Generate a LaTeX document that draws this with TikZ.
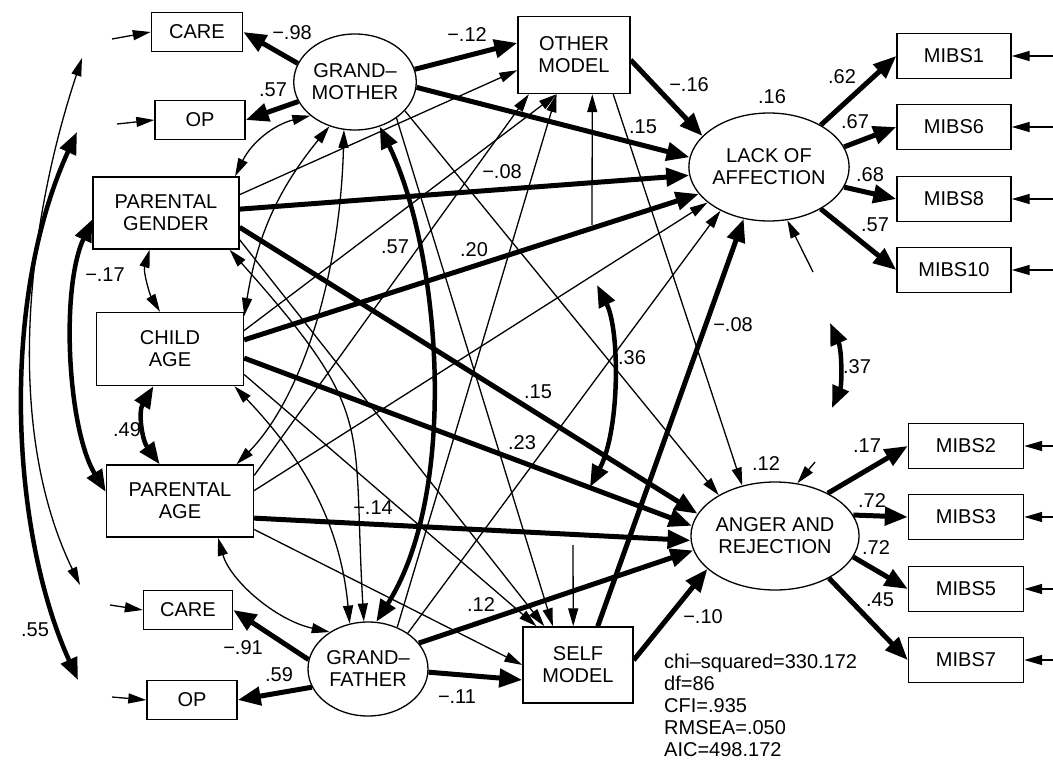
\documentclass[tikz,border=0pt]{standalone}
\usepackage{fontspec}
\setmainfont{Liberation Sans}
\usetikzlibrary{arrows.meta,shapes.geometric}
\begin{document}
\begin{tikzpicture}[x=1pt,y=-1pt,
  font=\fontsize{20}{22}\selectfont,
  box/.style={draw,line width=1.4pt,inner sep=0pt,align=center},
  lat/.style={draw,ellipse,line width=1.3pt,inner sep=0pt,align=center},
  pth/.style={line width=1.3pt,-{Triangle[length=18pt,width=10pt]}},
  pthb/.style={line width=1.3pt,{Triangle[length=18pt,width=10pt]}-{Triangle[length=18pt,width=10pt]}},
  pthk/.style={line width=5pt,-{Triangle[length=23pt,width=18pt]}},
  pthkb/.style={line width=4.5pt,{Triangle[length=22pt,width=17pt]}-{Triangle[length=22pt,width=17pt]}},
  lbl/.style={inner sep=0pt}
]
\useasboundingbox (0,0) rectangle (1053,760);

% ---------- nodes ----------
\node[box,minimum width=91pt,minimum height=39pt] (care1) at (197,32) {CARE};
\node[box,minimum width=90pt,minimum height=39pt] (op1) at (200,120) {OP};
\node[lat,minimum width=120pt,minimum height=96pt] (gm) at (355,82) {GRAND–\\MOTHER};
\node[box,minimum width=112pt,minimum height=77pt] (om) at (574,55) {OTHER\\MODEL};
\node[lat,minimum width=155pt,minimum height=108pt] (la) at (769,167) {LACK OF\\AFFECTION};
\node[box,minimum width=114pt,minimum height=45pt] (m1) at (954,56) {MIBS1};
\node[box,minimum width=114pt,minimum height=45pt] (m6) at (954,127) {MIBS6};
\node[box,minimum width=114pt,minimum height=45pt] (m8) at (954,199) {MIBS8};
\node[box,minimum width=114pt,minimum height=45pt] (m10) at (954,270) {MIBS10};
\node[box,minimum width=146pt,minimum height=72pt] (pg) at (166,213) {PARENTAL\\GENDER};
\node[box,minimum width=147pt,minimum height=73pt] (ca) at (170,349) {CHILD\\AGE};
\node[box,minimum width=147pt,minimum height=72pt] (pa) at (180,501) {PARENTAL\\AGE};
\node[box,minimum width=89pt,minimum height=39pt] (care2) at (188,610) {CARE};
\node[box,minimum width=90pt,minimum height=39pt] (op2) at (192,700) {OP};
\node[lat,minimum width=120pt,minimum height=94pt] (gf) at (368,669) {GRAND–\\FATHER};
\node[box,minimum width=110pt,minimum height=76pt] (sm) at (578,665) {SELF\\MODEL};
\node[lat,minimum width=153pt,minimum height=108pt] (ar) at (775,536) {ANGER AND\\REJECTION};
\node[box,minimum width=115pt,minimum height=45pt] (m2) at (966,446) {MIBS2};
\node[box,minimum width=115pt,minimum height=45pt] (m3) at (966,517) {MIBS3};
\node[box,minimum width=115pt,minimum height=45pt] (m5) at (966,589) {MIBS5};
\node[box,minimum width=115pt,minimum height=45pt] (m7) at (966,660) {MIBS7};

% ---------- free ends ----------
\coordinate (ecare1) at (112,39);
\coordinate (eop1) at (117,124);
\coordinate (ecare2) at (110,605);
\coordinate (eop2) at (112,697);
\coordinate (c1a) at (82,58);
\coordinate (c1b) at (80,585);
\coordinate (c2a) at (77,132);
\coordinate (c2b) at (78,680);
\coordinate (em1) at (1053,56);
\coordinate (em6) at (1053,127);
\coordinate (em8) at (1053,199);
\coordinate (em10) at (1053,270);
\coordinate (em2) at (1053,446);
\coordinate (em3) at (1053,517);
\coordinate (em5) at (1053,589);
\coordinate (em7) at (1053,660);
\coordinate (eom) at (592,225);
\coordinate (esm) at (573,545);
\coordinate (ela) at (813,272);
\coordinate (ear) at (815,462);
\coordinate (a36) at (597,285);
\coordinate (b36) at (590,487);
\coordinate (a37) at (830,323);
\coordinate (b37) at (832,408);

% ---------- measurement ----------
\draw[pthk] (gm.162) -- (care1.east);
\draw[pthk] (gm.199) -- (op1.east);
\draw[pthk] (gf.171.6) -- (care2.east);
\draw[pthk] (gf.198) -- (op2.east);
\draw[pth] (ecare1) -- (care1.west);
\draw[pth] (eop1) -- (op1.west);
\draw[pth] (ecare2) -- (care2.west);
\draw[pth] (eop2) -- (op2.west);
\draw[pthk] (la.39.7) -- (m1.west);
\draw[pthk] (la.15) -- (m6.west);
\draw[pthk] (la.-15.4) -- (m8.west);
\draw[pthk] (la.-39) -- (m10.west);
\draw[pthk] (ar.39.7) -- (m2.west);
\draw[pthk] (ar.15.6) -- (m3.west);
\draw[pthk] (ar.-15.6) -- (m5.west);
\draw[pthk] (ar.-38.4) -- (m7.west);
\foreach \m in {m1,m6,m8,m10,m2,m3,m5,m7} {\draw[pth] (e\m) -- (\m.east);}

% ---------- thin paths ----------
\draw[pth] (gm.-41) -- (sm.123);
\draw[pth] (gm.-30) -- (ar.144.7);
\draw[pth] (pg.14) -- (om.195);
\draw[pth] (pg.-20) -- (sm.131);
\draw[pth] (ca.14.4) -- (om.246.4);
\draw[pth] (ca.-19.4) -- (sm.137);
\draw[pth] (pa.19.4) -- (om.221.6);
\draw[pth] (pa.8.5) -- (la.210.7);
\draw[pth] (pa.-21.4) -- (sm.180);
\draw[pth] (gf.55.7) -- (om.246.4);
\draw[pth] (gf.42.9) -- (la.222.7);
\draw[pth] (om.-45.7) -- (ar.123);
\draw[pth] (eom) -- (om.-65);
\draw[pth] (esm) -- (sm.97.5);
\draw[pth] (ela) -- (la.-71.6);
\draw[pth] (ear) -- (ar.67);

% ---------- thick paths ----------
\draw[pthk] (gm.12) -- (om.168);
\draw[pthk] (gm.-5) -- (la.173);
\draw[pthk] (om.-5) -- (la.155.6);
\draw[pthk] (pg.3) -- (la.186);
\draw[pthk] (ca.7) -- (la.201.5);
\draw[pthk] (pg.-11.6) -- (ar.164);
\draw[pthk] (ca.-7) -- (ar.173);
\draw[pthk] (pa.-13.7) -- (ar.183);
\draw[pthk] (gf.27.8) -- (ar.190.6);
\draw[pthk] (gf.-3) -- (sm.195);
\draw[pthk] (sm.63.4) -- (la.244);
\draw[pthk] (sm.5) -- (ar.206);

% ---------- covariances ----------
\draw[pthb] (pg.28) to[bend left=25] (gm.-143);
\draw[pthb] (gm.-120) to[bend right=15] (ca.24);
\draw[pthb] (gm.-103) .. controls (340,280) and (300,400) .. (pa.33);
\draw[pthkb] (gm.-61) .. controls (440,250) and (460,490) .. (gf.80);
\draw[pthb] (pg.-30) .. controls (377,415) and (352,420) .. (gf.95);
\draw[pthb] (ca.-30) .. controls (300,455) and (340,520) .. (gf.112);
\draw[pthb] (pa.-44) .. controls (230,580) and (275,620) .. (gf.136.5);
\draw[pthb] (pg.-114) .. controls (143,272) and (150,295) .. (ca.105.5);
\draw[pthkb] (ca.-114.7) .. controls (138,412) and (142,440) .. (pa.119);
\draw[pthkb] (pg.185.5) .. controls (60,290) and (68,430) .. (pa.173.7);
\draw[pthb] (c1a) .. controls (25,230) and (5,430) .. (c1b);
\draw[pthkb] (c2a) .. controls (0,300) and (10,530) .. (c2b);
\draw[pthkb] (a36) .. controls (620,330) and (620,430) .. (b36);
\draw[pthkb] (a37) .. controls (842,350) and (842,385) .. (b37);

% ---------- labels ----------
\node[lbl] (l01) at (292,33) {−.98};
\node[lbl] (l02) at (273,90) {.57};
\node[lbl] (l03) at (467,35) {−.12};
\node[lbl] (l04) at (689,85) {−.16};
\node[lbl] (l05) at (643,127) {.15};
\node[lbl] (l06) at (772,97) {.16};
\node[lbl] (l07) at (842,77) {.62};
\node[lbl] (l08) at (855,122) {.67};
\node[lbl] (l09) at (870,175) {.68};
\node[lbl] (l10) at (875,225) {.57};
\node[lbl] (l11) at (502,172) {−.08};
\node[lbl] (l12) at (395,247) {.57};
\node[lbl] (l13) at (474,250) {.20};
\node[lbl] (l14) at (105,275) {−.17};
\node[lbl] (l15) at (127,430) {.49};
\node[lbl] (l16) at (632,358) {.36};
\node[lbl] (l17) at (538,392) {.15};
\node[lbl] (l18) at (522,443) {.23};
\node[lbl] (l19) at (733,325) {−.08};
\node[lbl] (l20) at (857,367) {.37};
\node[lbl] (l21) at (766,464) {.12};
\node[lbl] (l22) at (867,446) {.17};
\node[lbl] (l23) at (872,501) {.72};
\node[lbl] (l24) at (876,548) {.72};
\node[lbl] (l25) at (880,600) {.45};
\node[lbl] (l26) at (703,617) {−.10};
\node[lbl] (l27) at (373,508) {−.14};
\node[lbl] (l28) at (481,605) {.12};
\node[lbl] (l29) at (457,697) {−.11};
\node[lbl] (l30) at (243,648) {−.91};
\node[lbl] (l31) at (279,675) {.59};
\node[lbl] (l32) at (35,630) {.55};
\node[lbl,anchor=north west,align=left] (stats) at (664,654) {chi–squared=330.172\\df=86\\CFI=.935\\RMSEA=.050\\AIC=498.172};
\end{tikzpicture}
\end{document}
